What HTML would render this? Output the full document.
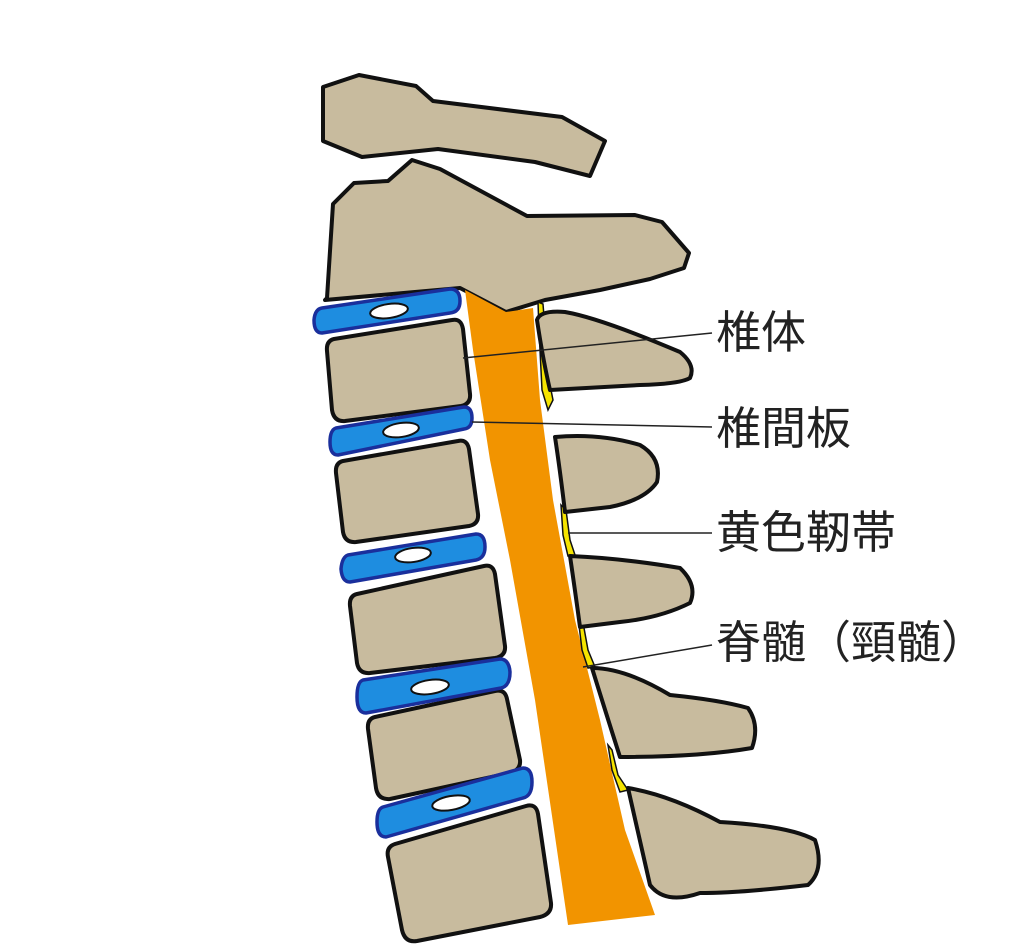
<!DOCTYPE html>
<html><head><meta charset="utf-8"><style>
html,body{margin:0;padding:0;background:#fff;}
svg{display:block;}
text{font-family:"Liberation Sans","Noto Sans CJK JP",sans-serif;font-size:45px;fill:#222;}
</style></head><body>
<svg width="1024" height="944" viewBox="0 0 1024 944">
<g stroke="#111" stroke-width="4" stroke-linejoin="round" fill="#c8bb9e">
<path d="M323,87 L359,75 L416,86 L433,101 L562,117 L605,141 L590,176 L535,162 L438,149 L362,157 L323,141 Z"/>
<path d="M327,298 L333,204 L354,183 L388,181 L412,160 L440,169 L527,216 L635,215 L662,222 L689,253 L684,268 L650,279 L600,290 L545,300 L506,312 L460,288 L325,300 Z"/>
</g>
<!-- spinal cord -->
<path d="M465,290 L473,350 L490,460 L510,560 L535,700 L568,925 L655,915 L625,830 L600,720 L575,620 L553,500 L540,400 L533,308 L506,312 Z" fill="#f29400"/>
<!-- yellow ligaments -->
<g fill="#f5e400" stroke="#111" stroke-width="1.5">
<path d="M538,302 L543,304 L549,380 L553,400 L548,410 L542,390 L539,330 Z"/>
<path d="M561,505 L566,510 L570,540 L575,555 L568,556 L563,535 Z"/>
<path d="M579,625 L584,628 L588,650 L595,667 L588,668 L582,650 Z"/>
<path d="M608,745 L612,750 L618,775 L628,790 L620,792 L612,770 Z"/>
</g>
<!-- vertebral bodies -->
<g stroke="#111" stroke-width="4" stroke-linejoin="round" fill="#c8bb9e">
<path d="M334,339 Q326,341 327,351 L332,410 Q334,422 345,421 L461,406 Q471,404 470,394 L463,329 Q461,318 452,320 Z"/>
<path d="M343,461 Q335,463 336,473 L343,532 Q345,543 356,542 L469,526 Q479,524 478,514 L469,449 Q467,439 458,441 Z"/>
<path d="M357,594 Q349,596 350,606 L357,663 Q359,674 370,673 L495,658 Q506,656 505,646 L495,574 Q493,564 484,566 Z"/>
<path d="M375,717 Q367,719 368,729 L376,788 Q378,800 390,799 L510,773 Q521,770 520,760 L507,699 Q505,689 495,691 Z"/>
<path d="M395,844 Q386,847 388,857 L402,930 Q405,943 417,941 L540,917 Q552,914 551,903 L538,814 Q536,803 526,806 Z"/>
</g>
<!-- discs -->
<g stroke="#1a2f9c" stroke-width="3.5" fill="#1e8de0" stroke-linejoin="round">
<path d="M322,308 L450,289 Q460,289 460,301 Q460,312 450,313 L322,333 Q314,333 314,320 Q315,309 322,308 Z"/>
<path d="M336,428 L464,407 Q472,407 472,418 Q472,428 464,429 L338,455 Q330,455 330,442 Q330,430 336,428 Z"/>
<path d="M348,555 L476,534 Q485,534 485,547 Q485,558 476,560 L350,582 Q342,582 341,569 Q342,557 348,555 Z"/>
<path d="M363,680 L500,659 Q509,659 510,672 Q510,686 501,688 L366,713 Q357,713 357,697 Q357,682 363,680 Z"/>
<path d="M383,807 L523,768 Q532,768 532,782 Q532,796 523,798 L386,837 Q377,837 377,822 Q377,809 383,807 Z"/>
</g>
<g fill="#fff" stroke="#111" stroke-width="2">
<ellipse cx="389" cy="311" rx="19" ry="7" transform="rotate(-8 389 311)"/>
<ellipse cx="401" cy="430" rx="18" ry="7" transform="rotate(-8 401 430)"/>
<ellipse cx="413" cy="555" rx="18" ry="7" transform="rotate(-8 413 555)"/>
<ellipse cx="430" cy="687" rx="19" ry="7" transform="rotate(-8 430 687)"/>
<ellipse cx="451" cy="803" rx="19" ry="7" transform="rotate(-10 451 803)"/>
</g>
<!-- spinous processes -->
<g stroke="#111" stroke-width="4" stroke-linejoin="round" fill="#c8bb9e">
<path d="M537,320 Q540,310 565,312 Q600,318 680,352 Q696,365 690,378 Q680,384 640,385 L550,390 Q543,360 537,320 Z"/>
<path d="M555,437 Q600,433 640,445 Q662,458 657,482 Q645,500 610,507 L565,512 Q560,470 555,437 Z"/>
<path d="M570,556 Q620,558 680,568 Q698,585 690,603 Q660,618 620,622 L580,627 Q575,590 570,556 Z"/>
<path d="M592,668 Q625,668 670,695 Q720,700 748,708 Q760,725 752,748 Q700,757 620,757 Q605,710 592,668 Z"/>
<path d="M628,788 Q670,795 720,822 Q790,826 815,840 Q825,870 808,885 Q740,893 700,893 Q665,905 650,885 Q640,840 628,788 Z"/>
</g>
<!-- leader lines -->
<g stroke="#222" stroke-width="1.5">
<line x1="463" y1="358" x2="712" y2="333"/>
<line x1="472" y1="422" x2="712" y2="427"/>
<line x1="568" y1="533" x2="712" y2="533"/>
<line x1="583" y1="667" x2="712" y2="645"/>
</g>
<text x="716" y="348">椎体</text>
<text x="716" y="444">椎間板</text>
<text x="716" y="548">黄色靭帯</text>
<text x="716" y="658">脊髄（頸髄）</text>
</svg>
</body></html>
